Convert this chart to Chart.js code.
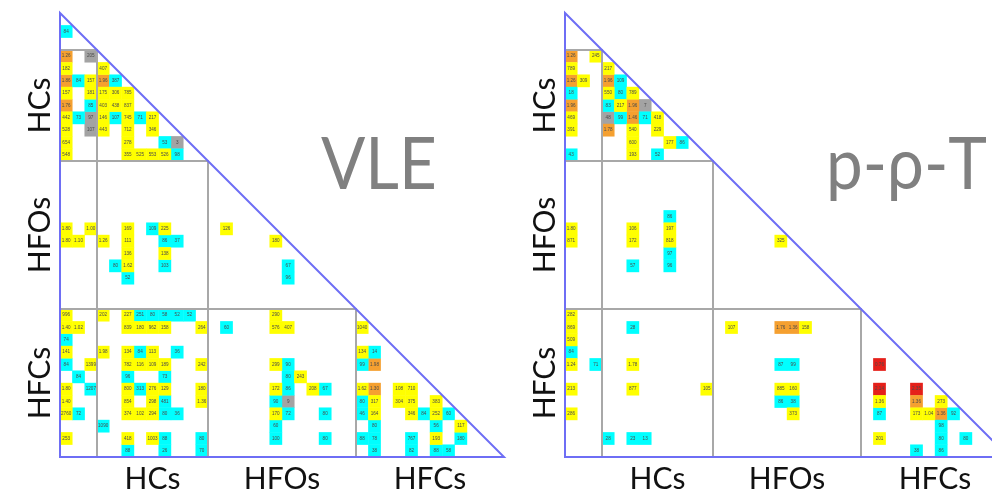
<!DOCTYPE html>
<html>
<head>
<meta charset="utf-8">
<script src="https://cdn.jsdelivr.net/npm/chart.js@4/dist/chart.umd.min.js"></script>
<style>
  html, body { margin: 0; padding: 0; width: 992px; height: 492px; overflow: hidden; background: #fff; }
  canvas { position: absolute; top: 0; }
  #vle { left: 0; }
  #pvt { left: 505px; }
</style>
</head>
<body>
<canvas id="vle" width="512" height="492"></canvas>
<canvas id="pvt" width="520" height="492"></canvas>
<script>
// Mixture matrix: 36 components, lower triangle = binary pairs.
const componentCount = 36;
const groupNames = ['HCs', 'HFOs', 'HFCs'];
const groupStart = [3, 12, 24];
const groupEnd = [12, 24, 36];

// Cells are [row, column, label]
const vleYellow = [
  [4,0,'182'],[4,3,'407'],[5,2,'157'],
  [6,0,'157'],[6,2,'181'],[6,3,'175'],[6,4,'306'],[6,5,'785'],
  [7,3,'403'],[7,4,'438'],[7,5,'837'],
  [8,0,'442'],[8,3,'146'],[8,5,'745'],[8,7,'217'],
  [9,0,'528'],[9,3,'443'],[9,5,'712'],[9,7,'346'],
  [10,0,'654'],[10,5,'278'],
  [11,0,'548'],[11,5,'355'],[11,6,'525'],[11,7,'553'],[11,8,'526'],
  [17,0,'1.80'],[17,2,'1.00'],[17,5,'169'],[17,8,'225'],[17,13,'126'],
  [18,0,'1.80'],[18,1,'1.10'],[18,3,'1.26'],[18,5,'111'],[18,17,'180'],
  [19,5,'136'],[19,8,'138'],[20,5,'1.62'],
  [24,0,'996'],[24,3,'202'],[24,5,'227'],[24,17,'290'],
  [25,0,'1.40'],[25,1,'1.02'],[25,5,'839'],[25,6,'180'],[25,7,'962'],[25,8,'158'],[25,11,'264'],[25,17,'576'],[25,18,'407'],[25,24,'1040'],
  [27,0,'141'],[27,3,'1.98'],[27,5,'134'],[27,7,'113'],[27,24,'134'],
  [28,2,'1399'],[28,5,'782'],[28,6,'116'],[28,7,'109'],[28,8,'189'],[28,11,'242'],[28,17,'299'],
  [29,19,'243'],
  [30,0,'1.80'],[30,5,'800'],[30,7,'276'],[30,8,'129'],[30,11,'180'],[30,17,'172'],[30,20,'208'],[30,24,'1.62'],[30,27,'108'],[30,28,'710'],
  [31,0,'1.40'],[31,5,'854'],[31,7,'298'],[31,11,'1.36'],[31,25,'317'],[31,27,'304'],[31,28,'375'],[31,30,'383'],
  [32,0,'2760'],[32,5,'374'],[32,6,'102'],[32,7,'294'],[32,17,'170'],[32,25,'164'],[32,28,'346'],[32,30,'252'],
  [33,32,'117'],
  [34,0,'253'],[34,5,'418'],[34,7,'1003'],[34,30,'193']
];
const vleCyan = [
  [1,0,'84'],[5,1,'84'],[5,4,'387'],[7,2,'85'],
  [8,1,'73'],[8,4,'107'],[8,6,'71'],[10,8,'53'],[11,9,'98'],
  [17,7,'109'],[18,8,'86'],[18,9,'37'],
  [20,4,'80'],[20,8,'103'],[20,18,'67'],[21,5,'52'],[21,18,'96'],
  [24,6,'251'],[24,7,'80'],[24,8,'58'],[24,9,'52'],[24,10,'52'],
  [25,13,'60'],[26,0,'74'],
  [27,6,'84'],[27,9,'36'],[27,25,'14'],
  [28,0,'84'],[28,18,'90'],[28,24,'99'],
  [29,1,'84'],[29,5,'96'],[29,8,'73'],[29,18,'80'],
  [30,2,'1207'],[30,6,'313'],[30,18,'86'],[30,21,'67'],
  [31,8,'481'],[31,17,'90'],[31,24,'80'],
  [32,1,'72'],[32,8,'80'],[32,9,'36'],[32,18,'72'],[32,21,'80'],[32,24,'46'],[32,29,'84'],[32,31,'60'],
  [33,3,'1090'],[33,17,'60'],[33,25,'80'],[33,30,'56'],
  [34,8,'88'],[34,11,'80'],[34,17,'100'],[34,21,'80'],[34,24,'88'],[34,25,'78'],[34,28,'767'],[34,32,'180'],
  [35,5,'88'],[35,8,'26'],[35,11,'70'],[35,25,'38'],[35,28,'82'],[35,30,'88'],[35,31,'58']
];
const vleOrange = [
  [3,0,'1.26'],[5,0,'1.86'],[5,3,'1.96'],[7,0,'1.76'],[28,25,'1.98'],[30,25,'1.30']
];
const vleGray = [
  [3,2,'205'],[8,2,'97'],[9,2,'107'],[10,9,'3'],[31,18,'9']
];
const vleRed = [];

const pvtYellow = [
  [3,2,'245'],[4,0,'789'],[4,3,'217'],[5,1,'309'],
  [6,3,'550'],[6,5,'789'],[7,4,'217'],
  [8,0,'469'],[8,7,'418'],[9,0,'391'],[9,5,'540'],[9,7,'229'],
  [10,5,'600'],[10,8,'177'],[11,5,'193'],
  [17,0,'1.80'],[17,5,'106'],[17,8,'197'],
  [18,0,'871'],[18,5,'172'],[18,8,'818'],[18,17,'325'],
  [24,0,'282'],[25,0,'869'],[25,13,'107'],[25,19,'158'],[26,0,'509'],
  [28,0,'1.24'],[28,5,'1.78'],
  [30,0,'213'],[30,5,'877'],[30,11,'105'],[30,17,'885'],[30,18,'160'],
  [31,25,'1.36'],[31,30,'273'],
  [32,0,'286'],[32,18,'373'],[32,28,'173'],[32,29,'1.04'],
  [34,25,'201']
];
const pvtCyan = [
  [5,4,'109'],[6,0,'18'],[6,4,'80'],[7,3,'83'],[8,4,'99'],[8,6,'71'],
  [10,9,'86'],[11,0,'43'],[11,7,'52'],
  [16,8,'86'],[19,8,'97'],[20,5,'57'],[20,8,'96'],
  [25,5,'28'],[27,0,'84'],[28,2,'71'],[28,17,'87'],[28,18,'99'],
  [31,17,'86'],[31,18,'38'],[32,25,'87'],[32,31,'92'],[33,30,'98'],
  [34,3,'28'],[34,5,'23'],[34,6,'13'],[34,30,'80'],[34,32,'80'],
  [35,28,'38'],[35,30,'86']
];
const pvtOrange = [
  [3,0,'1.26'],[5,0,'1.26'],[5,3,'1.96'],[7,0,'1.96'],[7,5,'1.96'],
  [8,5,'1.46'],[9,3,'1.78'],[25,17,'1.76'],[25,18,'1.36'],[31,28,'1.36'],[32,30,'1.36']
];
const pvtGray = [
  [7,6,'7'],[8,3,'48']
];
const pvtRed = [
  [28,25,'0.76'],[30,25,'2.14'],[30,28,'2.35']
];

const tones = {
  yellow: '#FFFF00',
  cyan: '#00FFFF',
  orange: '#F5A030',
  gray: '#A3A3A3',
  red: '#E5201A'
};

function toPoints(list) {
  return list.map(([r, c, t]) => ({ x: c + 0.5, y: r + 0.5, label: t }));
}

function cellSide(chart) {
  const s = chart.scales.x;
  return Math.abs(s.getPixelForValue(1) - s.getPixelForValue(0));
}

function dataset(list, color) {
  return {
    data: toPoints(list),
    pointStyle: 'rect',
    backgroundColor: color,
    borderWidth: 0,
    pointBorderWidth: 0,
    pointRadius: (ctx) => (cellSide(ctx.chart) + 0.4) / Math.SQRT2,
    pointHoverRadius: (ctx) => (cellSide(ctx.chart) + 0.4) / Math.SQRT2
  };
}

// Draws cell labels, group dividers, triangle outline, group names and panel title
const matrixFrame = {
  id: 'matrixFrame',
  afterDatasetsDraw(chart, args, opts) {
    const { ctx, scales: { x, y } } = chart;
    const px = (v) => x.getPixelForValue(v);
    const py = (v) => y.getPixelForValue(v);
    ctx.save();

    ctx.font = '4.6px "Liberation Sans"';
    ctx.fillStyle = '#4a4a4a';
    ctx.textAlign = 'center';
    ctx.textBaseline = 'middle';
    chart.data.datasets.forEach((ds) => {
      ds.data.forEach((p) => ctx.fillText(p.label, px(p.x), py(p.y)));
    });

    ctx.strokeStyle = '#A8A8A8';
    ctx.lineWidth = 2;
    groupStart.forEach((g) => {
      ctx.beginPath();
      ctx.moveTo(px(0), py(g));
      ctx.lineTo(px(g), py(g));
      ctx.lineTo(px(g), py(componentCount));
      ctx.stroke();
    });

    ctx.strokeStyle = '#6E6EF5';
    ctx.lineWidth = 2;
    ctx.beginPath();
    ctx.moveTo(px(0), py(0));
    ctx.lineTo(px(0), py(componentCount));
    ctx.lineTo(px(componentCount), py(componentCount));
    ctx.closePath();
    ctx.stroke();

    ctx.fillStyle = '#111';
    ctx.font = '30px Lato';
    ctx.textAlign = 'center';
    ctx.textBaseline = 'alphabetic';
    groupNames.forEach((name, i) => {
      const mid = (groupStart[i] + groupEnd[i]) / 2;
      ctx.fillText(name, px(mid), py(componentCount) + 32);
      ctx.save();
      ctx.translate(px(0) - 10, py(mid));
      ctx.rotate(-Math.PI / 2);
      ctx.fillText(name, 0, 0);
      ctx.restore();
    });

    // panel title, slightly condensed
    ctx.fillStyle = '#808080';
    ctx.font = '72px Lato';
    ctx.textAlign = 'left';
    ctx.translate(chart.chartArea.left + 261, chart.chartArea.top + 176);
    ctx.scale(0.91, 1);
    ctx.fillText(opts.title, 0, 0);

    ctx.restore();
  }
};

function buildPanel(id, title, yellow, cyan, orange, gray, red) {
  const canvas = document.getElementById(id);
  return new Chart(canvas, {
    type: 'scatter',
    data: {
      datasets: [
        dataset(yellow, tones.yellow),
        dataset(cyan, tones.cyan),
        dataset(orange, tones.orange),
        dataset(gray, tones.gray),
        dataset(red, tones.red)
      ]
    },
    options: {
      responsive: false,
      devicePixelRatio: 1,
      animation: false,
      events: [],
      layout: { padding: { left: 60, top: 13, right: canvas.width - 504, bottom: 35 } },
      scales: {
        x: { type: 'linear', min: 0, max: componentCount, display: false },
        y: { type: 'linear', min: 0, max: componentCount, reverse: true, display: false }
      },
      plugins: {
        legend: { display: false },
        tooltip: { enabled: false },
        matrixFrame: { title: title }
      }
    },
    plugins: [matrixFrame]
  });
}

buildPanel('vle', 'VLE', vleYellow, vleCyan, vleOrange, vleGray, vleRed);
buildPanel('pvt', 'p-ρ-T', pvtYellow, pvtCyan, pvtOrange, pvtGray, pvtRed);
</script>
</body>
</html>
